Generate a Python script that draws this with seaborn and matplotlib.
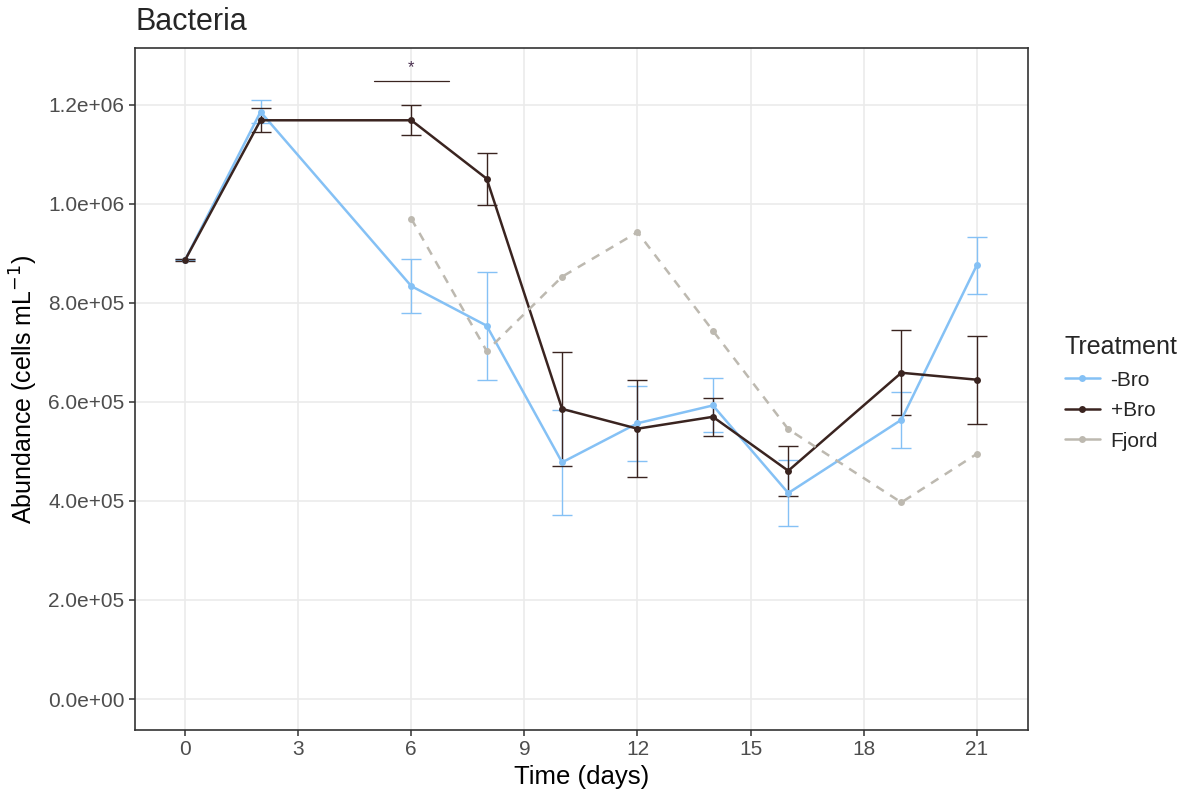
import numpy as np
import pandas as pd
import matplotlib
matplotlib.use("Agg")
import matplotlib.pyplot as plt
from matplotlib.lines import Line2D
from matplotlib.ticker import FuncFormatter, MultipleLocator
import seaborn as sns

# Sampling days for the mesocosm treatments
days = [0, 2, 6, 8, 10, 12, 14, 16, 19, 21]

# Bacterial abundance (cells per mL), mean and error per treatment
minus_bro = [8.87e5, 1.186e6, 8.34e5, 7.54e5, 4.78e5, 5.57e5, 5.93e5, 4.16e5, 5.64e5, 8.76e5]
minus_bro_err = [1.0e3, 2.3e4, 5.4e4, 1.095e5, 1.065e5, 7.6e4, 5.45e4, 6.75e4, 5.65e4, 5.75e4]

plus_bro = [8.87e5, 1.169e6, 1.169e6, 1.051e6, 5.86e5, 5.46e5, 5.70e5, 4.61e5, 6.59e5, 6.45e5]
plus_bro_err = [2.0e3, 2.45e4, 3.05e4, 5.25e4, 1.145e5, 9.8e4, 3.9e4, 5.0e4, 8.6e4, 8.9e4]

fjord_days = [6, 8, 10, 12, 14, 16, 19, 21]
fjord = [9.70e5, 7.03e5, 8.53e5, 9.43e5, 7.44e5, 5.45e5, 3.97e5, 4.95e5]

treatments = ["-Bro", "+Bro", "Fjord"]
palette = {"-Bro": "#85C1F5", "+Bro": "#3A2420", "Fjord": "#BDB9B0"}

df = pd.concat([
    pd.DataFrame({"day": days, "abundance": minus_bro, "Treatment": "-Bro"}),
    pd.DataFrame({"day": days, "abundance": plus_bro, "Treatment": "+Bro"}),
    pd.DataFrame({"day": fjord_days, "abundance": fjord, "Treatment": "Fjord"}),
], ignore_index=True)

sns.set_theme(style="white")
plt.rcParams["font.family"] = ["Liberation Sans", "DejaVu Sans"]

fig = plt.figure(figsize=(11.88, 7.94), dpi=100)
ax = fig.add_axes([135 / 1188, 64 / 794, 893 / 1188, 682 / 794])

# Error bars first so the lines sit on top
ax.errorbar(days, minus_bro, yerr=minus_bro_err, fmt="none",
            ecolor=palette["-Bro"], elinewidth=1.0, capsize=7, capthick=1.0, zorder=2)
ax.errorbar(days, plus_bro, yerr=plus_bro_err, fmt="none",
            ecolor=palette["+Bro"], elinewidth=1.0, capsize=7, capthick=1.0, zorder=2.5)

sns.lineplot(data=df, x="day", y="abundance", hue="Treatment", style="Treatment",
             hue_order=treatments, style_order=treatments, palette=palette,
             dashes={"-Bro": "", "+Bro": "", "Fjord": (3.5, 3)},
             markers={"-Bro": "o", "+Bro": "o", "Fjord": "o"},
             markersize=5, markeredgewidth=0, linewidth=1.8,
             errorbar=None, legend=False, ax=ax, zorder=3)

# Significance bracket at day 6
ax.plot([5, 7], [1.248e6, 1.248e6], color="#3A2420", linewidth=0.9, zorder=3)
ax.text(6, 1.276e6, "*", ha="center", va="center", fontsize=12, color="#4A3050")

ax.set_xlim(-1.33, 22.36)
ax.set_ylim(-6.26e4, 1.315e6)
ax.xaxis.set_major_locator(MultipleLocator(3))
ax.yaxis.set_major_locator(MultipleLocator(2e5))
ax.yaxis.set_major_formatter(FuncFormatter(lambda v, p: f"{v:.1e}"))

ax.grid(True, color="#EBEBEB", linewidth=1.2)
ax.set_axisbelow(True)
for s in ax.spines.values():
    s.set_visible(True)
    s.set_color("#333333")
    s.set_linewidth(1.2)
ax.tick_params(axis="both", which="major", length=4.5, width=1.1, color="#333333",
               labelcolor="#4D4D4D", labelsize=15, pad=3, bottom=True, left=True)

ax.set_xlabel("Time (days)", fontsize=18.5, color="black", labelpad=4)
ax.set_ylabel("Abundance (cells mL$^{-1}$)", fontsize=18, color="black", labelpad=6)

fig.text(135 / 1188, 1 - 22 / 794, "Bacteria", fontsize=22, ha="left", va="center")

handles = [Line2D([0], [0], color=palette[t], linewidth=1.8, marker="o",
                  markersize=5, markeredgewidth=0) for t in treatments]
leg = fig.legend(handles, treatments, title="Treatment", loc="center left",
                 bbox_to_anchor=(1046 / 1188, 1 - 393 / 794), frameon=False,
                 fontsize=15, title_fontsize=18, handlelength=1.7,
                 handletextpad=0.5, labelspacing=0.55)
leg._legend_box.align = "left"

fig.savefig("out.png", dpi=100)
